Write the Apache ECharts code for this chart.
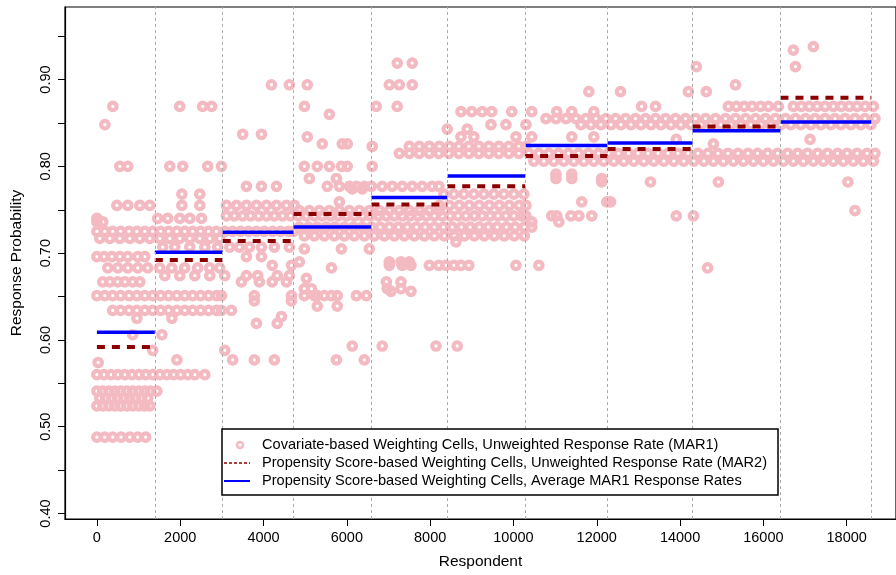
<!DOCTYPE html>
<html>
<head>
<meta charset="utf-8">
<script src="https://cdn.jsdelivr.net/npm/echarts@6.0.0/dist/echarts.min.js"></script>
<style>
  html, body { margin: 0; padding: 0; background: #ffffff; }
  #chart { width: 896px; height: 575px; }
</style>
</head>
<body>
<div id="chart"></div>
<script>
// ---------------- data ----------------
const xTickValues = [0, 2000, 4000, 6000, 8000, 10000, 12000, 14000, 16000, 18000];
const yLabelValues = [0.40, 0.50, 0.60, 0.70, 0.80, 0.90];
const yTickValues = [0.40, 0.45, 0.50, 0.55, 0.60, 0.65, 0.70, 0.75, 0.80, 0.85, 0.90, 0.95];

// propensity-score weighting cells (respondent index boundaries)
const cellStarts = [0, 1390, 3020, 4720, 6590, 8410, 10280, 12260, 14300, 16410];
const cellEnds   = [1390, 3020, 4720, 6590, 8410, 10280, 12260, 14300, 16410, 18590];
const mar2Rates    = [0.592, 0.692, 0.714, 0.745, 0.756, 0.777, 0.812, 0.820, 0.846, 0.879];
const avgMar1Rates = [0.609, 0.701, 0.724, 0.730, 0.764, 0.789, 0.824, 0.827, 0.841, 0.851];

// covariate-based cells: response rate -> respondents read at that rate
const mar1Rows = [
  [0.938, [17200]],
  [0.934, [16720]],
  [0.919, [7210, 7570]],
  [0.915, [14390, 16770]],
  [0.894, [4190, 4620, 5050, 7020, 7260, 7570, 15330]],
  [0.886, [11810, 12570, 14200, 14630]],
  [0.869, [383, 1988, 2540, 2754, 4982, 6706, 7209, 13077, 13412, 15160, 15350, 15540, 15730, 15930, 16120, 16360,
           16720, 16910, 17100, 17290, 17480, 17680, 17870, 18060, 18250, 18440, 18640]],
  [0.863, [8740, 9000, 9250, 9480, 9960, 10440, 11040, 11400, 11930]],
  [0.860, [5580]],
  [0.855, [10780, 11020, 11260, 11500, 11740, 11980, 12220, 12450, 12690, 12930, 13170, 13410, 13650, 13890, 14130,
           14370, 14610, 14850, 15090, 15330, 15570, 15810, 16050, 16290, 16530, 16770, 17010, 17240, 17480, 17720,
           17960, 18200, 18440, 18680]],
  [0.848, [192, 9460, 9820, 10300, 11620, 11860, 12100, 12340, 12580, 12820, 13060, 13300, 13540, 13780, 14020, 14260,
           14500, 14740, 14980, 15220, 15460, 15700, 15940, 16180, 16420, 16660, 16900, 17140, 17380, 17620, 17860,
           18100, 18340, 18580]],
  [0.843, [8410, 8890]],
  [0.837, [3500, 3950]],
  [0.834, [5050, 8740, 9050, 10060, 10440, 11400, 11930]],
  [0.831, [13910, 17120]],
  [0.826, [5410, 5890, 6010, 14800]],
  [0.823, [6610, 7500, 7740, 7980, 8220, 8460, 8690, 8930, 9170, 9410, 9650, 9890, 10130, 10300]],
  [0.815, [7260, 7500, 7740, 7980, 8210, 8450, 8690, 8930, 9170, 9410, 9650, 9890, 10130, 10370, 10610, 10850, 11080,
           11320, 11560, 11800, 12040, 12280, 12520, 12760, 12990, 13230, 13470, 13710, 13950, 14190, 14430, 14670,
           14910, 15150, 15390, 15630, 15860, 16100, 16340, 16580, 16820, 17060, 17300, 17540, 17780, 18010, 18250,
           18490, 18680]],
  [0.806, [10490, 10730, 10970, 11210, 11450, 11690, 11930, 12170, 12410, 12650, 12890, 13130, 13370, 13610, 13850,
           14090, 14330, 14570, 14800, 15040, 15280, 15520, 15760, 16000, 16240, 16480, 16720, 16960, 17200, 17440,
           17680, 17920, 18160, 18400, 18640]],
  [0.800, [550, 740, 1750, 2060, 2660, 2990, 4980, 5290, 5580, 5870, 6010, 6610]],
  [0.791, [11020, 11400]],
  [0.786, [5100, 5750, 11020, 11400, 12120]],
  [0.782, [12120, 13290, 14920, 18030]],
  [0.777, [3590, 3950, 4310, 5530, 5820, 6060, 6230, 6420, 6590, 6850, 7090, 7330, 7570, 7810, 8050, 8210]],
  [0.774, [6130, 6370]],
  [0.768, [2040, 2470, 8330, 8570, 8810, 9050, 9290, 9530, 9770, 10010, 10250]],
  [0.759, [5820, 11640, 12240, 12330]],
  [0.755, [479, 742, 1030, 1270, 2040, 2470, 3110, 3350, 3590, 3830, 4070, 4310, 4550, 4740,
           8220, 8460, 8700, 8940, 9180, 9420, 9660, 9900, 10140, 10300]],
  [0.749, [4860, 5100, 5340, 5580, 5820, 6060, 6300, 6540, 6780, 7020, 7260, 7500, 7740, 7980, 8220, 18200]],
  [0.743, [3110, 3300, 3500, 3690, 3880, 4070, 4260, 4460, 4650, 4840, 5030, 5220, 5410, 5610, 5800, 5990, 6180,
           6370, 6560, 6760, 6950, 7140, 7330, 7520, 7710, 7910, 8100, 8290, 8480, 8670, 8860, 9060, 9250, 9440,
           9630, 9820, 10010, 10200, 10300, 10920, 11040, 11380, 11570, 11880, 13910, 14320]],
  [0.740, [0, 1460, 1700, 1990, 2230, 2510]],
  [0.736, [0, 140, 10440, 11090]],
  [0.730, [4860, 5080, 5290, 5510, 5720, 5940, 6160, 6370, 6590, 6800, 7020, 7240, 7450, 7670, 7880, 8100, 8320,
           8530, 8750, 8960, 9180, 9400, 9610, 9830, 10040, 10260, 10440]],
  [0.725, [0, 190, 380, 570, 770, 960, 1150, 1340, 1530, 1720, 1920, 2110, 2300, 2490, 2680, 2870, 3070, 3260,
           3450, 3640, 3830, 4020, 4220, 4410, 4600, 4720]],
  [0.720, [4980, 5220, 5460, 5700, 5940, 6180, 6420, 6660, 6900, 7140, 7380, 7620, 7860, 8100, 8340, 8580, 8820,
           9060, 9300, 9540, 9780, 10020, 10260]],
  [0.717, [70, 310, 550, 790, 1030, 1270, 1510, 1750, 1990, 2230, 2470, 2710, 2950]],
  [0.713, [8620]],
  [0.707, [1580, 1870, 2230, 2590, 2900, 3190, 3420, 3660, 3950, 4260, 4620]],
  [0.705, [4980, 5870, 6540]],
  [0.696, [0, 170, 360, 550, 740, 980, 1150, 3590, 3950]],
  [0.690, [4860, 7020, 7300, 7500]],
  [0.686, [4210, 4670, 7020, 7330, 7540, 7980, 8210, 8380, 8570, 8740, 8930, 10060, 10610]],
  [0.683, [263, 503, 742, 982, 1221, 1509, 1796, 2108, 2419, 2706, 2946, 5630, 14660]],
  [0.674, [1630, 1990, 2350, 2710, 3070, 3590, 3860, 4330, 4620]],
  [0.671, [5030]],
  [0.667, [140, 310, 500, 670, 860, 1030, 3470, 3900, 4210, 4550, 6950, 7300]],
  [0.659, [4980, 5150, 6970, 7300]],
  [0.656, [7060, 7540]],
  [0.651, [0, 190, 380, 570, 770, 960, 1150, 1340, 1530, 1720, 1920, 2110, 2300, 2490, 2680, 2870, 2990,
           3780, 4670, 4980, 5220, 5290, 5460, 5630, 5770, 6230, 6470]],
  [0.645, [3780, 4670]],
  [0.639, [5290, 5770]],
  [0.634, [380, 570, 770, 960, 1150, 1340, 1530, 1720, 1920, 2110, 2300, 2490, 2680, 2870, 2990, 3230]],
  [0.627, [4430]],
  [0.625, [960, 1800]],
  [0.619, [3830, 4330]],
  [0.606, [860, 1560]],
  [0.593, [6130, 6850, 8140, 8650]],
  [0.588, [1340, 3070]],
  [0.577, [1920, 3260, 3780, 4260, 5750, 6420]],
  [0.574, [30]],
  [0.560, [0, 170, 340, 500, 670, 840, 1010, 1170, 1340, 1510, 1680, 1840, 2010, 2180, 2350, 2590]],
  [0.541, [0, 140, 290, 430, 570, 720, 860, 1010, 1150, 1290, 1440]],
  [0.533, [70, 210, 360, 500, 650, 790, 930, 1080, 1220]],
  [0.524, [0, 140, 290, 430, 570, 720, 860, 1010, 1150, 1270]],
  [0.488, [0, 190, 380, 580, 790, 980, 1170]]
];

const legendLabels = [
  'Covariate-based Weighting Cells, Unweighted Response Rate (MAR1)',
  'Propensity Score-based Weighting Cells, Unweighted Response Rate (MAR2)',
  'Propensity Score-based Weighting Cells, Average MAR1 Response Rates'
];

// ---------------- build ----------------
const scatterData = [];
mar1Rows.forEach(([rate, resp]) => resp.forEach(x => scatterData.push([x, rate])));

function stepData(rates) {
  const d = [];
  rates.forEach((v, i) => {
    d.push([cellStarts[i], v]);
    d.push([cellEnds[i], v]);
    d.push([cellEnds[i], '-']);
  });
  return d;
}

const FONT = '"Liberation Sans", Arial, Helvetica, sans-serif';
const PINK = '#F4BAC2';
const RED = '#8B0000';
const BLUE = '#0000FF';

const chart = echarts.init(document.getElementById('chart'), null, { renderer: 'canvas' });

chart.setOption({
  animation: false,
  backgroundColor: '#ffffff',
  textStyle: { fontFamily: FONT },
  grid: { left: 65, top: 7, width: 833, height: 515, show: true, borderColor: '#000', borderWidth: 1.2, backgroundColor: 'transparent' },
  xAxis: {
    type: 'value',
    min: -766, max: 19184,
    name: 'Respondent',
    nameLocation: 'middle',
    nameGap: 35,
    nameTextStyle: { fontFamily: FONT, fontSize: 15.5, color: '#000' },
    axisLine: { show: true, onZero: false, lineStyle: { color: '#000', width: 1.2 } },
    axisTick: { show: true, length: 7, customValues: xTickValues, lineStyle: { color: '#000', width: 1 } },
    axisLabel: { customValues: xTickValues, fontFamily: FONT, fontSize: 14.5, color: '#000', margin: 11,
                 formatter: v => String(Math.round(v)) },
    splitLine: { show: false }
  },
  yAxis: {
    type: 'value',
    min: 0.3937, max: 0.9836,
    name: 'Response Probability',
    nameLocation: 'middle',
    nameRotate: 90,
    nameGap: 40,
    nameTextStyle: { fontFamily: FONT, fontSize: 15.5, color: '#000' },
    axisLine: { show: true, onZero: false, lineStyle: { color: '#000', width: 1.2 } },
    axisTick: { show: true, length: 7, customValues: yTickValues, lineStyle: { color: '#000', width: 1 } },
    axisLabel: { customValues: yLabelValues, rotate: 90, fontFamily: FONT, fontSize: 14.5, color: '#000', margin: 12,
                 formatter: v => Number(v).toFixed(2) },
    splitLine: { show: false }
  },
  series: [
    {
      name: 'cells',
      type: 'line',
      data: [],
      silent: true,
      z: 1,
      markLine: {
        silent: true,
        symbol: ['none', 'none'],
        label: { show: false },
        lineStyle: { color: '#ababab', type: [3, 3], width: 1 },
        data: cellEnds.map(v => ({ xAxis: v }))
      }
    },
    {
      name: legendLabels[0],
      type: 'scatter',
      data: scatterData,
      symbol: 'circle',
      symbolSize: 7.5,
      z: 2,
      itemStyle: { color: 'rgba(255,255,255,0)', borderColor: PINK, borderWidth: 4.2, opacity: 1 }
    },
    {
      name: legendLabels[2],
      type: 'line',
      data: stepData(avgMar1Rates),
      showSymbol: false,
      connectNulls: false,
      z: 3,
      lineStyle: { color: BLUE, width: 3.5 }
    },
    {
      name: legendLabels[1],
      type: 'line',
      data: stepData(mar2Rates),
      showSymbol: false,
      connectNulls: false,
      z: 4,
      lineStyle: { color: RED, width: 4, type: [8, 7] }
    }
  ],
  graphic: [
    { type: 'rect', z: 10, shape: { x: 222, y: 429, width: 556, height: 66 },
      style: { fill: '#fff', stroke: '#000', lineWidth: 1.5 } },
    { type: 'circle', z: 11, shape: { cx: 240, cy: 445, r: 3 },
      style: { fill: 'rgba(0,0,0,0)', stroke: PINK, lineWidth: 2.5 } },
    { type: 'line', z: 11, shape: { x1: 224, y1: 463, x2: 250, y2: 463 },
      style: { stroke: RED, lineWidth: 1.5, lineDash: [3, 2] } },
    { type: 'line', z: 11, shape: { x1: 224, y1: 481, x2: 250, y2: 481 },
      style: { stroke: BLUE, lineWidth: 2 } },
    { type: 'text', z: 11, x: 262, y: 445,
      style: { text: legendLabels[0], font: '14.6px ' + FONT, fill: '#000', textVerticalAlign: 'middle', verticalAlign: 'middle' } },
    { type: 'text', z: 11, x: 262, y: 463,
      style: { text: legendLabels[1], font: '14.6px ' + FONT, fill: '#000', textVerticalAlign: 'middle', verticalAlign: 'middle' } },
    { type: 'text', z: 11, x: 262, y: 481,
      style: { text: legendLabels[2], font: '14.6px ' + FONT, fill: '#000', textVerticalAlign: 'middle', verticalAlign: 'middle' } }
  ]
});
</script>
</body>
</html>
